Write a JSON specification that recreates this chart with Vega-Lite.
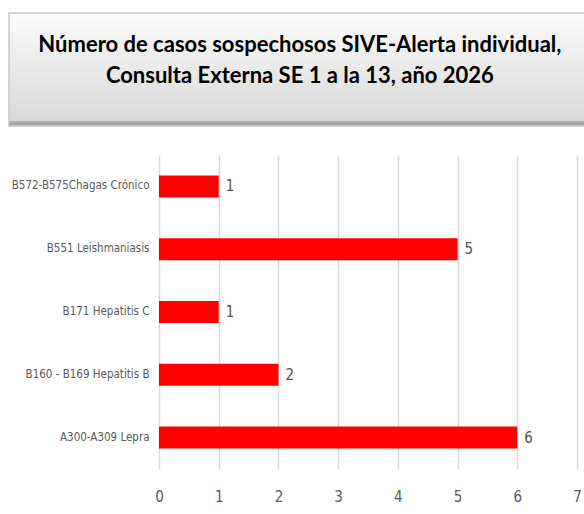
{
  "$schema": "https://vega.github.io/schema/vega-lite/v6.json",
  "padding": {"left": 8, "top": 12, "right": 0, "bottom": 0},
  "background": "#ffffff",
  "spacing": 28,
  "config": {
    "view": {"stroke": null},
    "concat": {"spacing": 28}
  },
  "vconcat": [
    {
      "width": 576,
      "height": 113,
      "view": {
        "stroke": "#c8c8c8",
        "strokeWidth": 1.5,
        "fill": {
          "gradient": "linear",
          "x1": 0, "y1": 0, "x2": 0, "y2": 1,
          "stops": [
            {"offset": 0, "color": "#fbfbfb"},
            {"offset": 0.955, "color": "#d9d9d9"},
            {"offset": 0.962, "color": "#a9a9a9"},
            {"offset": 1, "color": "#a9a9a9"}
          ]
        }
      },
      "data": {"values": [{"t": "Número de casos sospechosos SIVE-Alerta individual,\nConsulta Externa SE 1 a la 13, año 2026", "px": 0.505, "py": 0.717}]},
      "mark": {
        "type": "text",
        "lineBreak": "\n",
        "lineHeight": 31,
        "font": "Lato",
        "fontWeight": "bold",
        "fontSize": 22,
        "color": "#000000",
        "align": "center",
        "baseline": "middle"
      },
      "encoding": {
        "text": {"field": "t"},
        "x": {"field": "px", "type": "quantitative", "scale": {"domain": [0, 1]}, "axis": null},
        "y": {"field": "py", "type": "quantitative", "scale": {"domain": [0, 1]}, "axis": null}
      }
    },
    {
      "width": 576,
      "height": 314,
      "data": {
        "values": [
          {"cat": "B572-B575Chagas Crónico", "n": 1},
          {"cat": "B551 Leishmaniasis", "n": 5},
          {"cat": "B171 Hepatitis C", "n": 1},
          {"cat": "B160 - B169 Hepatitis B", "n": 2},
          {"cat": "A300-A309 Lepra", "n": 6}
        ]
      },
      "encoding": {
        "y": {
          "field": "cat",
          "type": "nominal",
          "sort": null,
          "scale": {"paddingInner": 0.65, "paddingOuter": 0.325},
          "axis": {
            "title": null,
            "orient": "left",
            "offset": -150,
            "domain": false,
            "ticks": false,
            "grid": false,
            "labelPadding": 10,
            "labelLimit": 300,
            "labelFont": "DejaVu Sans Condensed, sans-serif",
            "labelFontSize": 11.5,
            "labelColor": "#595959"
          }
        },
        "x": {
          "field": "n",
          "type": "quantitative",
          "scale": {"domain": [-2.512, 7.134], "nice": false},
          "axis": {
            "title": null,
            "values": [0, 1, 2, 3, 4, 5, 6, 7],
            "grid": true,
            "gridColor": "#d9d9d9",
            "gridWidth": 1.5,
            "domain": false,
            "ticks": false,
            "labelPadding": 20,
            "labelFont": "DejaVu Sans Condensed, sans-serif",
            "labelFontSize": 15,
            "labelColor": "#595959"
          }
        }
      },
      "layer": [
        {"mark": {"type": "bar", "color": "#ff0000"}},
        {
          "mark": {
            "type": "text",
            "align": "left",
            "baseline": "middle",
            "dx": 7,
            "font": "DejaVu Sans Condensed, sans-serif",
            "fontSize": 15,
            "color": "#505050"
          },
          "encoding": {"text": {"field": "n", "type": "quantitative"}}
        }
      ]
    }
  ]
}
